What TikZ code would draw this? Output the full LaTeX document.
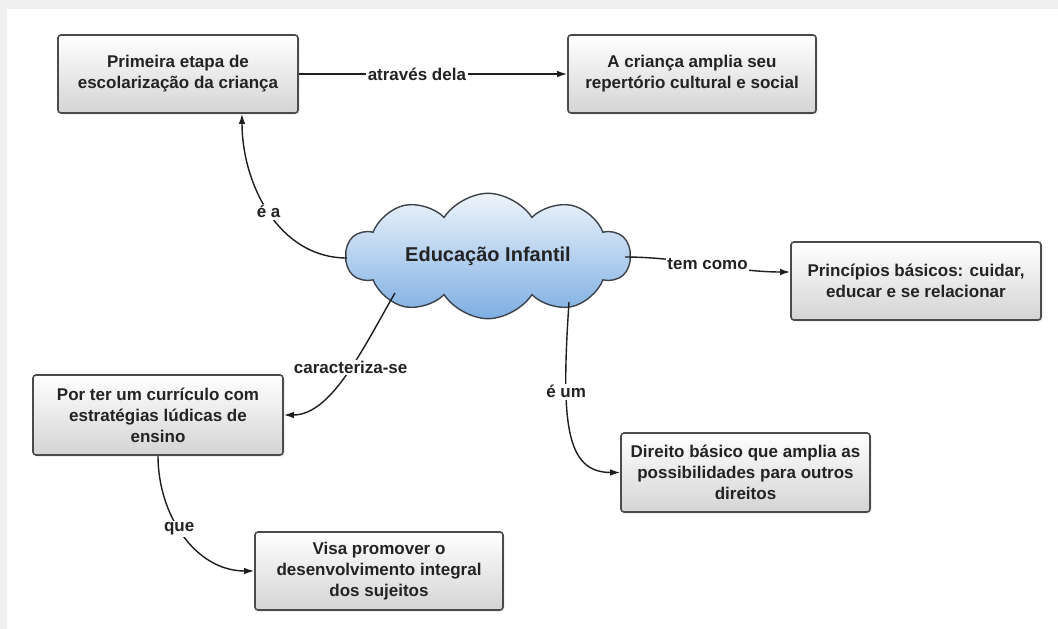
\documentclass[tikz,border=0pt]{standalone}
\usepackage{fontspec}
\setmainfont{Liberation Sans}
\usetikzlibrary{shapes.symbols,arrows.meta,shadows}
\definecolor{boxline}{RGB}{75,75,75}
\definecolor{boxbot}{RGB}{212,212,212}
\definecolor{txt}{RGB}{35,35,35}
\definecolor{lnkc}{RGB}{30,30,30}
\definecolor{cloudtop}{RGB}{238,244,251}
\definecolor{cloudmid}{RGB}{200,221,243}
\definecolor{cloudbot}{RGB}{125,174,226}
\definecolor{cloudline}{RGB}{60,66,74}
\definecolor{bggray}{RGB}{240,240,240}
\tikzset{
  conc/.style={draw=boxline, line width=1.6pt, rounded corners=3pt,
    top color=white, bottom color=boxbot,
    minimum width=248pt, minimum height=78pt, align=center,
    font=\fontsize{17}{21}\selectfont\bfseries, text=txt, inner sep=2pt,
    drop shadow={opacity=0.18, shadow xshift=1.5pt, shadow yshift=-1.5pt}},
  lnk/.style={draw=lnkc, line width=1.4pt, -{Latex[length=10pt,width=6.5pt]}},
  lbl/.style={fill=white, inner sep=1.5pt,
    font=\fontsize{17}{21}\selectfont\bfseries, text=txt},
}
\begin{document}
\begin{tikzpicture}[x=1pt,y=-1pt]
\useasboundingbox (0,0) rectangle (1058,629);
\fill[bggray] (0,0) rectangle (1058,629);
\fill[white] (7,9) rectangle (1058,629);

\node[conc, minimum width=240pt] (b1) at (178,74) {Primeira etapa de\\escolarização da criança};
\node[conc] (b2) at (692,74) {A criança amplia seu\\repertório cultural e social};
\node[conc, minimum width=250pt] (pr) at (916,281) {Princípios básicos: cuidar,\\educar e se relacionar};
\node[conc, minimum width=249pt, minimum height=79pt] (di) at (745.5,472.5) {Direito básico que amplia as\\possibilidades para outros\\direitos};
\node[conc, minimum width=250pt, minimum height=80pt] (pt) at (158,415) {Por ter um currículo com\\estratégias lúdicas de\\ensino};
\node[conc] (vi) at (379,571) {Visa promover o\\desenvolvimento integral\\dos sujeitos};

\node[cloud, cloud puffs=10, cloud puff arc=115, aspect=2.6,
  minimum width=284pt, minimum height=102pt, inner sep=0pt,
  draw=cloudline, line width=1.4pt,
  top color=cloudtop, middle color=cloudmid, bottom color=cloudbot,
  font=\fontsize{20}{24}\selectfont\bfseries, text=txt] (cl) at (488,256) {Educação Infantil};

\draw[lnk] (b1.east) -- node[lbl, pos=0.44] {através dela} (b2.west);
\draw[lnk] ([shift={(-141,2)}]cl.center) .. controls +(-69,0) and +(0,69) .. node[lbl, pos=0.5] {é a} ([xshift=64pt]b1.south);
\draw[lnk] ([shift={(137,1)}]cl.center) .. controls +(60,0) and +(-60,0) .. node[lbl, pos=0.5] {tem como} ([yshift=9pt]pr.west);
\draw[lnk] ([shift={(81,46)}]cl.center) .. controls +(-8,120) and +(-55,0) .. node[lbl, pos=0.3] {é um} (di.west);
\draw[lnk] ([shift={(-93,37)}]cl.center) .. controls +(-32,55) and +(48,0) .. node[lbl, pos=0.45] {caracteriza-se} (pt.east);
\draw[lnk] (pt.south) .. controls +(0,59) and +(-59,0) .. node[lbl, pos=0.45] {que} (vi.west);
\end{tikzpicture}
\end{document}
